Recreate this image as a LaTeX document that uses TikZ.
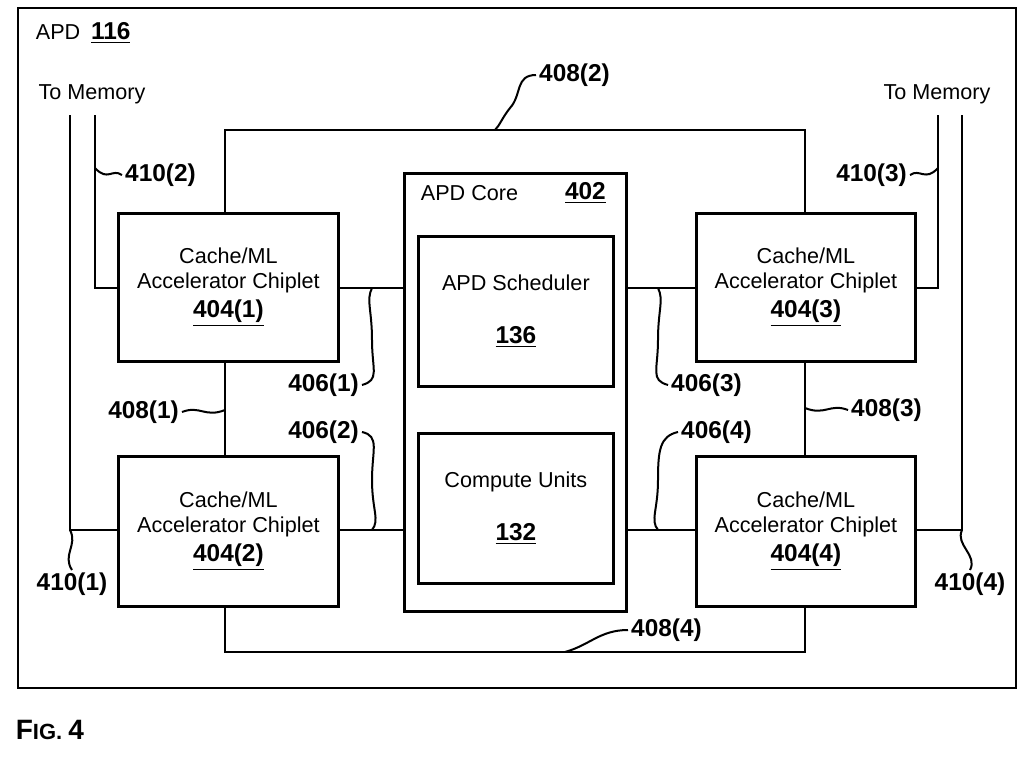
\documentclass[tikz,border=0pt]{standalone}
\usepackage{fontspec}
\setmainfont{Liberation Sans}
\begin{document}
\begin{tikzpicture}[x=0.5pt,y=-0.5pt,line width=1.2pt,
  box/.style={draw,line width=1.4pt,anchor=north west,inner sep=0},
  txt/.style={font=\fontsize{10.8}{12.5}\selectfont,align=center},
  lbl/.style={font=\bfseries\fontsize{12.2}{14}\selectfont,inner sep=1pt},
  lead/.style={line width=1pt}]
\useasboundingbox (0,0) rectangle (1024,756);
\draw[line width=1.4pt] (18,8) rectangle (1016,688);
\node[anchor=west,txt] (apd) at (28,33) {APD\enspace\textbf{\fontsize{12.2}{14}\selectfont\underline{116}}};
\node[anchor=west,font=\bfseries\fontsize{14}{16}\selectfont] (fig) at (8,730) {F\fontsize{11}{12}\selectfont IG. \fontsize{14}{16}\selectfont 4};
% boxes
\node[box,minimum width=110pt,minimum height=74pt] (c1) at (117,212) {};
\node[box,minimum width=110pt,minimum height=75pt] (c2) at (117,455) {};
\node[box,minimum width=109.5pt,minimum height=74pt] (c3) at (695,212) {};
\node[box,minimum width=109.5pt,minimum height=75pt] (c4) at (695,455) {};
\node[txt] at (c1.center) {Cache/ML\\Accelerator Chiplet\\[2pt]\textbf{\fontsize{12.2}{14}\selectfont\underline{404(1)}}};
\node[txt] at (c2.center) {Cache/ML\\Accelerator Chiplet\\[2pt]\textbf{\fontsize{12.2}{14}\selectfont\underline{404(2)}}};
\node[txt] at (c3.center) {Cache/ML\\Accelerator Chiplet\\[2pt]\textbf{\fontsize{12.2}{14}\selectfont\underline{404(3)}}};
\node[txt] at (c4.center) {Cache/ML\\Accelerator Chiplet\\[2pt]\textbf{\fontsize{12.2}{14}\selectfont\underline{404(4)}}};
\node[box,minimum width=111pt,minimum height=219pt] (core) at (403,172) {};
\node[txt,anchor=west] at (413,193) {APD Core};
\node[lbl,anchor=east] at (609,193) {\underline{402}};
\node[box,minimum width=97.5pt,minimum height=75pt] (sch) at (417,235) {};
\node[txt] at (sch.center) {APD Scheduler\\[14pt]\textbf{\fontsize{12.2}{14}\selectfont\underline{136}}};
\node[box,minimum width=97.5pt,minimum height=75pt] (cu) at (417,432) {};
\node[txt] at (cu.center) {Compute Units\\[14pt]\textbf{\fontsize{12.2}{14}\selectfont\underline{132}}};
% ring
\draw (225,212) -- (225,130) -- (805,130) -- (805,212);
\draw (225,360) -- (225,455);
\draw (805,360) -- (805,455);
\draw (225,605) -- (225,652) -- (805,652) -- (805,605);
% links
\draw (337,288) -- (403,288);
\draw (337,530) -- (403,530);
\draw (625,288) -- (695,288);
\draw (625,530) -- (695,530);
% memory
\node[txt] (m1) at (92,94) {To Memory};
\node[txt] (m2) at (937,94) {To Memory};
\draw (70,115) -- (70,530) -- (117,530);
\draw (95,115) -- (95,288) -- (117,288);
\draw (938,115) -- (938,288) -- (914,288);
\draw (962,115) -- (962,530) -- (914,530);
% labels
\node[lbl,anchor=west] (l4082) at (536,75) {408(2)};
\draw[lead] (l4082.west) .. controls (515,75) and (522,95) .. (510,108) .. controls (502,118) and (500,125) .. (495,130);
\node[lbl,anchor=west] (l4102) at (122,175) {410(2)};
\draw[lead] (l4102.west) .. controls (112,168) and (108,182) .. (95,168);
\node[lbl,anchor=east] (l4103) at (910,175) {410(3)};
\draw[lead] (l4103.east) .. controls (920,168) and (925,182) .. (938,168);
\node[lbl,anchor=east] (l4061) at (362,385) {406(1)};
\draw[lead] (l4061.east) .. controls (380,380) and (372,370) .. (372,340) .. controls (372,310) and (366,300) .. (372,288);
\node[lbl,anchor=west] (l4063) at (668,385) {406(3)};
\draw[lead] (l4063.west) .. controls (650,380) and (658,370) .. (658,340) .. controls (658,310) and (664,300) .. (658,288);
\node[lbl,anchor=east] (l4081) at (182,412) {408(1)};
\draw[lead] (l4081.east) .. controls (200,405) and (205,418) .. (225,410);
\node[lbl,anchor=west] (l4083) at (848,410) {408(3)};
\draw[lead] (l4083.west) .. controls (830,403) and (825,416) .. (805,408);
\node[lbl,anchor=east] (l4062) at (362,432) {406(2)};
\draw[lead] (l4062.east) .. controls (380,436) and (372,450) .. (372,480) .. controls (372,510) and (380,520) .. (372,530);
\node[lbl,anchor=west] (l4064) at (678,432) {406(4)};
\draw[lead] (l4064.west) .. controls (660,436) and (658,450) .. (658,480) .. controls (658,510) and (650,520) .. (658,530);
\node[lbl,anchor=north] (l4101) at (72,570) {410(1)};
\draw[lead] (l4101.north) .. controls (62,555) and (78,545) .. (70,530);
\node[lbl,anchor=north] (l4104) at (970,570) {410(4)};
\draw[lead] (l4104.north) .. controls (978,555) and (955,545) .. (962,530);
\node[lbl,anchor=west] (l4084) at (628,630) {408(4)};
\draw[lead] (l4084.west) .. controls (600,630) and (590,645) .. (565,652);
\end{tikzpicture}
\end{document}
